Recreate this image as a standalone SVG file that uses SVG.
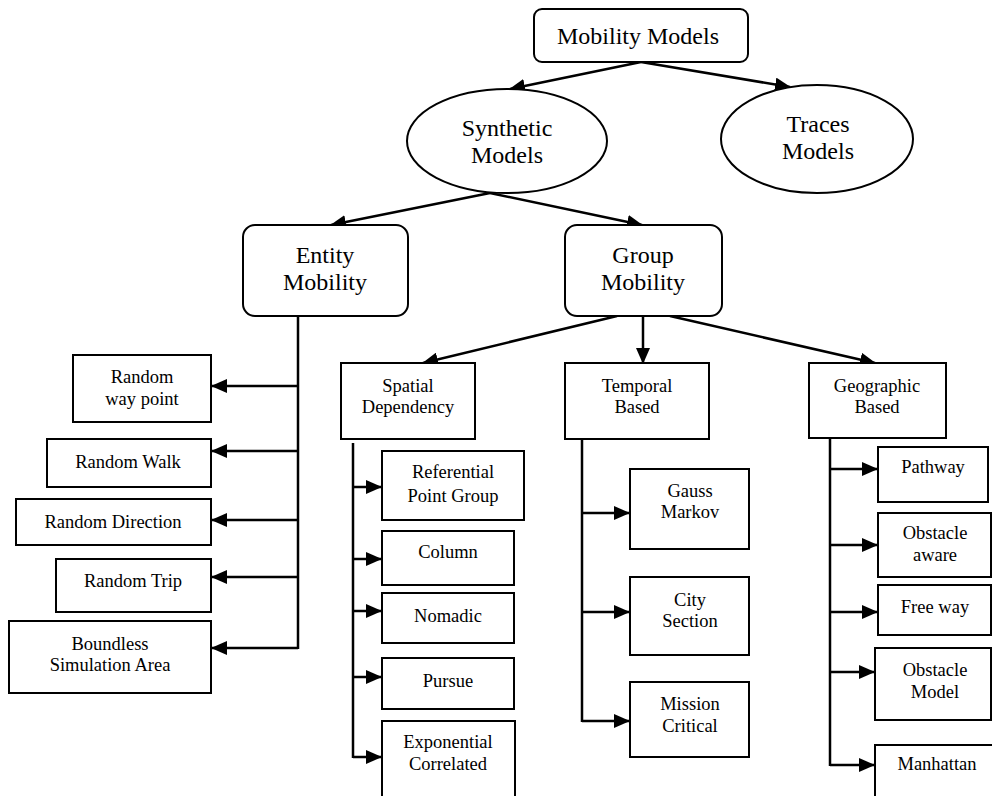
<svg xmlns="http://www.w3.org/2000/svg" width="992" height="796" viewBox="0 0 992 796">
<defs>
<marker id="ah" markerUnits="userSpaceOnUse" viewBox="0 0 16 14" refX="15" refY="7" markerWidth="16" markerHeight="14" orient="auto">
<path d="M0,0 L16,7 L0,14 Z" fill="#000"/>
</marker>
<style>
.box{fill:#fff;stroke:#000;stroke-width:2}
.big{font-family:"Liberation Serif","Times New Roman",serif;font-size:24px;fill:#000;text-anchor:middle}
.sm{font-family:"Liberation Serif","Times New Roman",serif;font-size:18.5px;fill:#000;text-anchor:middle}
.ln{fill:none;stroke:#000;stroke-width:2.5}
.ar{fill:none;stroke:#000;stroke-width:2.5;marker-end:url(#ah)}
</style>
</defs>
<rect width="992" height="796" fill="#fff"/>

<g id="connectors">
<line class="ar" x1="641" y1="62" x2="510" y2="89"/>
<line class="ar" x1="641" y1="62" x2="790" y2="87"/>
<line class="ar" x1="490" y1="193" x2="331" y2="225"/>
<line class="ar" x1="490" y1="193" x2="642" y2="225"/>
<line class="ar" x1="617" y1="316" x2="423" y2="363"/>
<line class="ar" x1="643" y1="316" x2="643" y2="363"/>
<line class="ar" x1="670" y1="316" x2="875" y2="363"/>
<!-- Entity -->
<line class="ln" x1="298" y1="316" x2="298" y2="649"/>
<line class="ar" x1="298" y1="386" x2="212" y2="386"/>
<line class="ar" x1="298" y1="451" x2="212" y2="451"/>
<line class="ar" x1="298" y1="520" x2="212" y2="520"/>
<line class="ar" x1="298" y1="577" x2="212" y2="577"/>
<line class="ar" x1="298" y1="648" x2="212" y2="648"/>
<!-- Spatial -->
<line class="ln" x1="353" y1="443" x2="353" y2="758"/>
<line class="ar" x1="353" y1="487" x2="381" y2="487"/>
<line class="ar" x1="353" y1="559" x2="381" y2="559"/>
<line class="ar" x1="353" y1="611" x2="381" y2="611"/>
<line class="ar" x1="353" y1="677" x2="381" y2="677"/>
<line class="ar" x1="353" y1="757" x2="381" y2="757"/>
<!-- Temporal -->
<line class="ln" x1="582" y1="439" x2="582" y2="722"/>
<line class="ar" x1="582" y1="513" x2="629" y2="513"/>
<line class="ar" x1="582" y1="612" x2="629" y2="612"/>
<line class="ar" x1="582" y1="721" x2="629" y2="721"/>
<!-- Geographic -->
<line class="ln" x1="830" y1="438" x2="830" y2="766"/>
<line class="ar" x1="830" y1="469" x2="877" y2="469"/>
<line class="ar" x1="830" y1="545" x2="877" y2="545"/>
<line class="ar" x1="830" y1="612" x2="877" y2="612"/>
<line class="ar" x1="830" y1="672" x2="874" y2="672"/>
<line class="ar" x1="830" y1="765" x2="874" y2="765"/>
</g>

<g id="mobility-models">
<rect class="box" x="534" y="9" width="214" height="53" rx="8"/>
<text class="big" x="638" y="44">Mobility Models</text>
</g>
<g id="synthetic-models">
<ellipse class="box" cx="507" cy="141" rx="100" ry="52"/>
<text class="big" x="507" y="136">Synthetic</text>
<text class="big" x="507" y="163">Models</text>
</g>
<g id="traces-models">
<ellipse class="box" cx="817" cy="139" rx="96" ry="54"/>
<text class="big" x="818" y="132">Traces</text>
<text class="big" x="818" y="159">Models</text>
</g>
<g id="entity-mobility">
<rect class="box" x="243" y="225" width="165" height="91" rx="12"/>
<text class="big" x="325" y="263">Entity</text>
<text class="big" x="325" y="290">Mobility</text>
</g>
<g id="group-mobility">
<rect class="box" x="565" y="225" width="157" height="91" rx="12"/>
<text class="big" x="643" y="263">Group</text>
<text class="big" x="643" y="290">Mobility</text>
</g>

<g id="random-way-point">
<rect class="box" x="73" y="355" width="138" height="67"/>
<text class="sm" x="142" y="383">Random</text>
<text class="sm" x="142" y="405">way point</text>
</g>
<g id="random-walk">
<rect class="box" x="47" y="439" width="164" height="48"/>
<text class="sm" x="128" y="468">Random Walk</text>
</g>
<g id="random-direction">
<rect class="box" x="16" y="499" width="195" height="46"/>
<text class="sm" x="113" y="528">Random Direction</text>
</g>
<g id="random-trip">
<rect class="box" x="56" y="559" width="155" height="53"/>
<text class="sm" x="133" y="587">Random Trip</text>
</g>
<g id="boundless">
<rect class="box" x="9" y="621" width="202" height="72"/>
<text class="sm" x="110" y="650">Boundless</text>
<text class="sm" x="110" y="671">Simulation Area</text>
</g>

<g id="spatial-dependency">
<rect class="box" x="341" y="363" width="134" height="76"/>
<text class="sm" x="408" y="392">Spatial</text>
<text class="sm" x="408" y="413">Dependency</text>
</g>
<g id="referential-point-group">
<rect class="box" x="382" y="451" width="142" height="69"/>
<text class="sm" x="453" y="478">Referential</text>
<text class="sm" x="453" y="502">Point Group</text>
</g>
<g id="column">
<rect class="box" x="382" y="531" width="132" height="54"/>
<text class="sm" x="448" y="558">Column</text>
</g>
<g id="nomadic">
<rect class="box" x="382" y="593" width="132" height="50"/>
<text class="sm" x="448" y="622">Nomadic</text>
</g>
<g id="pursue">
<rect class="box" x="382" y="658" width="132" height="51"/>
<text class="sm" x="448" y="687">Pursue</text>
</g>
<g id="exponential-correlated">
<rect class="box" x="382" y="721" width="133" height="78"/>
<text class="sm" x="448" y="748">Exponential</text>
<text class="sm" x="448" y="770">Correlated</text>
</g>

<g id="temporal-based">
<rect class="box" x="565" y="363" width="144" height="76"/>
<text class="sm" x="637" y="392">Temporal</text>
<text class="sm" x="637" y="413">Based</text>
</g>
<g id="gauss-markov">
<rect class="box" x="630" y="469" width="119" height="80"/>
<text class="sm" x="690" y="497">Gauss</text>
<text class="sm" x="690" y="518">Markov</text>
</g>
<g id="city-section">
<rect class="box" x="630" y="577" width="119" height="78"/>
<text class="sm" x="690" y="606">City</text>
<text class="sm" x="690" y="627">Section</text>
</g>
<g id="mission-critical">
<rect class="box" x="630" y="682" width="119" height="75"/>
<text class="sm" x="690" y="710">Mission</text>
<text class="sm" x="690" y="732">Critical</text>
</g>

<g id="geographic-based">
<rect class="box" x="809" y="363" width="137" height="75"/>
<text class="sm" x="877" y="392">Geographic</text>
<text class="sm" x="877" y="413">Based</text>
</g>
<g id="pathway">
<rect class="box" x="878" y="447" width="110" height="55"/>
<text class="sm" x="933" y="473">Pathway</text>
</g>
<g id="obstacle-aware">
<rect class="box" x="878" y="513" width="113" height="64"/>
<text class="sm" x="935" y="539">Obstacle</text>
<text class="sm" x="935" y="561">aware</text>
</g>
<g id="free-way">
<rect class="box" x="878" y="585" width="113" height="50"/>
<text class="sm" x="935" y="613">Free way</text>
</g>
<g id="obstacle-model">
<rect class="box" x="875" y="648" width="116" height="72"/>
<text class="sm" x="935" y="676">Obstacle</text>
<text class="sm" x="935" y="698">Model</text>
</g>
<g id="manhattan">
<rect class="box" x="875" y="745" width="122" height="56"/>
<text class="sm" x="937" y="770">Manhattan</text>
</g>
</svg>
